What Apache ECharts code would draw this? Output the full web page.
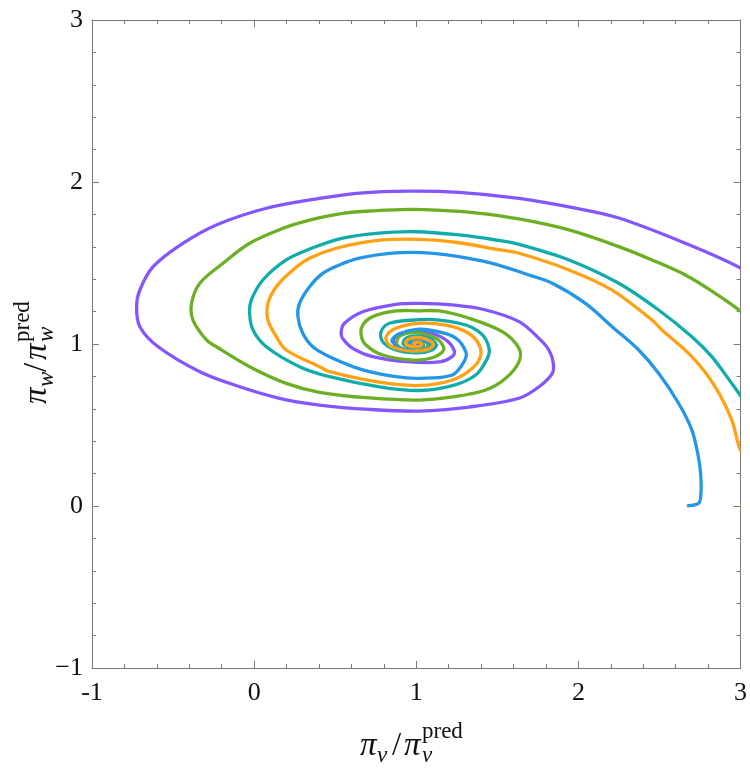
<!DOCTYPE html>
<html><head><meta charset="utf-8">
<script src="https://cdn.jsdelivr.net/npm/echarts@6/dist/echarts.min.js"></script>
<style>html,body{margin:0;padding:0;background:#fff}#c{width:750px;height:773px}</style>
</head><body><div id="c"></div>
<script>
const xTicks = [-1, 0, 1, 2, 3];
const yTicks = [-1, 0, 1, 2, 3];
const xLabels = ['-1', '0', '1', '2', '3'];
const yLabels = ['\u22121', '0', '1', '2', '3'];

const purple = [[3.3,1.2],[3.15,1.36],[3.0,1.469],[2.66,1.622],[2.249,1.778],[1.942,1.846],[1.634,1.899],[1.265,1.936],[0.957,1.944],[0.649,1.932],[0.403,1.899],[0.075,1.838],[-0.233,1.735],[-0.438,1.622],[-0.623,1.477],[-0.705,1.333],[-0.725,1.23],[-0.705,1.107],[-0.592,0.983],[-0.335,0.829],[-0.089,0.736],[0.157,0.665],[0.403,0.623],[0.711,0.596],[1.018,0.586],[1.326,0.611],[1.634,0.665],[1.757,0.736],[1.839,0.819],[1.845,0.883],[1.818,0.963],[1.757,1.035],[1.634,1.138],[1.429,1.21],[1.223,1.241],[1.018,1.251],[0.875,1.245],[0.67,1.199],[0.557,1.128],[0.537,1.076],[0.546,1.035],[0.608,0.973],[0.731,0.922],[0.937,0.891],[1.142,0.889],[1.225,0.925],[1.234,0.96],[1.19,1.02],[1.1,1.065],[1.0,1.08],[0.9,1.065],[0.86,1.025],[0.885,0.98],[0.96,0.955],[1.04,0.96],[1.08,0.985],[1.06,1.015],[1.0,1.03],[0.95,1.015],[0.955,0.99],[1.0,0.983],[1.03,0.995],[1.01,1.008],[1.0,1.0]];

const green = [[3.25,0.85],[3.12,1.08],[3.004,1.199],[2.844,1.313],[2.66,1.426],[2.454,1.519],[2.249,1.601],[1.942,1.704],[1.634,1.772],[1.367,1.81],[1.121,1.827],[0.957,1.831],[0.752,1.823],[0.546,1.807],[0.342,1.765],[0.177,1.714],[-0.028,1.622],[-0.192,1.498],[-0.335,1.375],[-0.386,1.251],[-0.377,1.148],[-0.294,1.025],[-0.233,0.983],[-0.028,0.86],[0.198,0.757],[0.403,0.702],[0.711,0.667],[1.018,0.654],[1.223,0.673],[1.429,0.716],[1.552,0.788],[1.634,0.891],[1.634,0.973],[1.531,1.076],[1.326,1.159],[1.142,1.204],[1.018,1.205],[0.875,1.204],[0.731,1.169],[0.67,1.117],[0.66,1.056],[0.69,0.994],[0.793,0.932],[0.977,0.901],[1.1,0.915],[1.17,0.965],[1.13,1.03],[1.0,1.07],[0.9,1.05],[0.88,1.0],[0.93,0.965],[1.0,0.958],[1.06,0.975],[1.07,1.005],[1.02,1.025],[0.96,1.015],[0.955,0.995],[1.0,0.985],[1.025,0.998],[1.0,1.0]];

const teal = [[3.25,0.0],[3.26,0.12],[3.2,0.3],[3.1,0.52],[3.004,0.675],[2.946,0.757],[2.823,0.922],[2.7,1.045],[2.495,1.21],[2.249,1.375],[1.942,1.519],[1.634,1.615],[1.49,1.642],[1.265,1.673],[0.998,1.693],[0.752,1.683],[0.546,1.653],[0.342,1.586],[0.198,1.519],[0.054,1.395],[-0.017,1.272],[-0.028,1.19],[-0.007,1.086],[0.075,0.983],[0.28,0.86],[0.465,0.798],[0.772,0.736],[1.018,0.713],[1.223,0.743],[1.367,0.809],[1.439,0.912],[1.449,0.973],[1.408,1.056],[1.306,1.117],[1.142,1.148],[1.018,1.15],[0.834,1.128],[0.783,1.076],[0.793,1.014],[0.875,0.963],[1.0,0.945],[1.09,0.96],[1.125,0.995],[1.08,1.035],[1.0,1.05],[0.935,1.035],[0.92,1.0],[0.955,0.98],[1.0,0.976],[1.045,0.99],[1.03,1.012],[0.99,1.015],[0.975,1.0],[1.0,0.99],[1.0,1.0]];

const orange = [[3.0,0.0],[3.05,0.02],[3.065,0.12],[3.04,0.25],[2.99,0.37],[2.946,0.531],[2.844,0.736],[2.7,0.922],[2.516,1.086],[2.454,1.148],[2.208,1.333],[1.942,1.457],[1.634,1.56],[1.49,1.585],[1.265,1.625],[1.018,1.646],[0.752,1.638],[0.506,1.591],[0.342,1.529],[0.239,1.457],[0.137,1.354],[0.085,1.251],[0.085,1.148],[0.137,1.045],[0.198,0.963],[0.403,0.86],[0.465,0.829],[0.772,0.764],[1.018,0.744],[1.223,0.778],[1.346,0.85],[1.398,0.932],[1.377,1.014],[1.306,1.076],[1.183,1.117],[1.018,1.128],[0.875,1.097],[0.814,1.045],[0.834,0.994],[0.916,0.963],[1.0,0.957],[1.08,0.97],[1.105,1.0],[1.06,1.03],[1.0,1.04],[0.945,1.025],[0.935,1.0],[0.97,0.985],[1.02,0.985],[1.035,1.0],[1.01,1.012],[0.985,1.005],[1.0,1.0]];

const blue = [[2.67,0.0],[2.742,0.017],[2.756,0.078],[2.754,0.2],[2.738,0.315],[2.7,0.469],[2.618,0.634],[2.495,0.819],[2.372,0.963],[2.208,1.107],[2.044,1.251],[1.839,1.375],[1.695,1.426],[1.47,1.498],[1.244,1.543],[1.039,1.564],[0.834,1.56],[0.649,1.53],[0.526,1.488],[0.423,1.436],[0.342,1.354],[0.28,1.251],[0.27,1.169],[0.3,1.066],[0.362,0.983],[0.465,0.922],[0.67,0.84],[0.875,0.798],[1.018,0.788],[1.223,0.809],[1.295,0.891],[1.306,0.951],[1.24,1.04],[1.12,1.08],[1.0,1.09],[0.89,1.06],[0.85,1.02],[0.9,0.975],[1.0,0.96],[1.07,0.97],[1.09,0.995],[1.05,1.02],[1.0,1.025],[0.96,1.012],[0.96,0.992],[1.0,0.988],[1.02,0.998],[1.0,1.0]];

const seriesDefs = [
  {name: 'purple', data: purple, color: '#8356ff'},
  {name: 'green', data: green, color: '#6caf24'},
  {name: 'teal', data: teal, color: '#12abab'},
  {name: 'blue', data: blue, color: '#2396e6'},
  {name: 'orange', data: orange, color: '#ffa114'}
];

const FONT = "'Liberation Serif', 'DejaVu Serif', serif";
const AX = '#7a7a7a';

// smooth curve through pixel points (chord-length Catmull-Rom as cubic Beziers)
function splinePath(P) {
  const n = P.length;
  const d = [];
  for (let i = 0; i < n - 1; i++) d.push(Math.hypot(P[i+1][0]-P[i][0], P[i+1][1]-P[i][1]) || 1e-6);
  const T = P.map((p, i) => {
    if (i === 0) return [(P[1][0]-p[0])/d[0], (P[1][1]-p[1])/d[0]];
    if (i === n-1) return [(p[0]-P[n-2][0])/d[n-2], (p[1]-P[n-2][1])/d[n-2]];
    const s = d[i-1] + d[i];
    return [(P[i+1][0]-P[i-1][0])/s, (P[i+1][1]-P[i-1][1])/s];
  });
  let str = 'M' + P[0][0].toFixed(2) + ' ' + P[0][1].toFixed(2);
  for (let i = 0; i < n - 1; i++) {
    const k = d[i] / 3;
    const c1 = [P[i][0] + T[i][0]*k, P[i][1] + T[i][1]*k];
    const c2 = [P[i+1][0] - T[i+1][0]*k, P[i+1][1] - T[i+1][1]*k];
    str += 'C' + c1[0].toFixed(2) + ' ' + c1[1].toFixed(2) + ' ' + c2[0].toFixed(2) + ' ' + c2[1].toFixed(2) + ' ' + P[i+1][0].toFixed(2) + ' ' + P[i+1][1].toFixed(2);
  }
  return str;
}

function axisCommon(showLabels, labels, ticks, margin) {
  return {
    type: 'value', min: -1, max: 3, interval: 1,
    axisLine: {show: true, onZero: false, lineStyle: {color: AX, width: 1}},
    axisTick: {show: true, inside: true, length: 7, lineStyle: {color: AX}},
    minorTick: {show: true, splitNumber: 5, length: 4, lineStyle: {color: AX}},
    splitLine: {show: false}, minorSplitLine: {show: false},
    axisLabel: {
      show: showLabels, fontFamily: FONT, fontSize: 26, color: '#111', margin: margin || 8,
      formatter: v => { const i = ticks.indexOf(Math.round(v)); return i >= 0 ? labels[i] : ''; }
    }
  };
}

function titleParts(sub) {
  const M = 33, S = 23;
  return [
    {type: 'text', x: 0, y: 0, style: {text: 'π', font: `italic ${M}px ${FONT}`, fill: '#111', verticalAlign: 'middle'}},
    {type: 'text', x: 17, y: 10, style: {text: sub, font: `italic ${S}px ${FONT}`, fill: '#111', verticalAlign: 'middle'}},
    {type: 'text', x: 32, y: 0, style: {text: '/', font: `${M}px ${FONT}`, fill: '#111', verticalAlign: 'middle'}},
    {type: 'text', x: 44, y: 0, style: {text: 'π', font: `italic ${M}px ${FONT}`, fill: '#111', verticalAlign: 'middle'}},
    {type: 'text', x: 62, y: -14, style: {text: 'pred', font: `${S}px ${FONT}`, fill: '#111', verticalAlign: 'middle'}},
    {type: 'text', x: 62, y: 10, style: {text: sub, font: `italic ${S}px ${FONT}`, fill: '#111', verticalAlign: 'middle'}}
  ];
}

const chart = echarts.init(document.getElementById('c'), null, {renderer: 'canvas'});
chart.setOption({
  animation: false,
  backgroundColor: '#fff',
  grid: {left: 92, right: 8, top: 20, bottom: 105, containLabel: false},
  xAxis: [
    Object.assign(axisCommon(true, xLabels, xTicks, 12), {position: 'bottom'}),
    Object.assign(axisCommon(false, xLabels, xTicks), {position: 'top'})
  ],
  yAxis: [
    Object.assign(axisCommon(true, yLabels, yTicks, 9), {position: 'left'}),
    Object.assign(axisCommon(false, yLabels, yTicks), {position: 'right'})
  ],
  series: seriesDefs.map(s => ({
    name: s.name, type: 'custom', coordinateSystem: 'cartesian2d',
    xAxisIndex: 0, yAxisIndex: 0, data: s.data, clip: true, silent: true,
    renderItem: (params, api) => {
      if (params.dataIndex !== 0) return null;
      const pts = s.data.map(p => api.coord(p));
      const cs = params.coordSys;
      return {
        type: 'path',
        shape: {pathData: splinePath(pts)},
        style: {stroke: s.color, lineWidth: 3.3, fill: null, lineJoin: 'round', lineCap: 'butt'},
        clipPath: {type: 'rect', shape: {x: cs.x, y: cs.y, width: cs.width, height: cs.height}}
      };
    }
  })),
  graphic: [
    {type: 'group', x: 360, y: 746, children: titleParts('v')},
    {type: 'group', x: 37, y: 404, rotation: Math.PI / 2, children: titleParts('w')}
  ]
});
</script></body></html>
